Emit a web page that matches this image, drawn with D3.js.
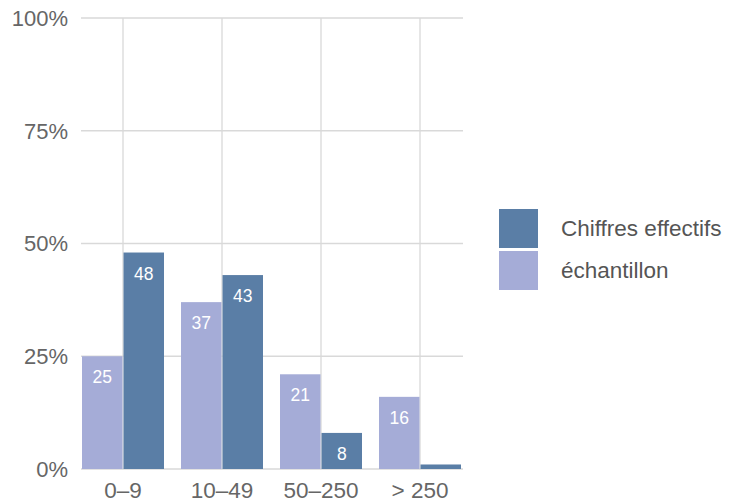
<!DOCTYPE html>
<html><head><meta charset="utf-8">
<script src="https://cdn.jsdelivr.net/npm/d3@7"></script>
<style>
html,body{margin:0;padding:0;background:#fff;}
svg text{font-family:"Liberation Sans",Arial,Helvetica,sans-serif;}
</style></head>
<body><svg id="c" width="731" height="502"></svg>
<script>
const categories = ["0–9", "10–49", "50–250", "> 250"];
const seriesNames = ["échantillon", "Chiffres effectifs"];
const sampleValues = [25, 37, 21, 16];
const actualValues = [48, 43, 8, 1];
const yTicks = [0, 25, 50, 75, 100];
const legendOrder = ["Chiffres effectifs", "échantillon"];
const colors = {"échantillon": "#a5acd7", "Chiffres effectifs": "#5a7ea6"};

const svg = d3.select("#c");
const x = d3.scaleBand().domain(categories).range([82, 461]).paddingInner(17/99).paddingOuter(0);
const xs = d3.scaleBand().domain(seriesNames).range([0, x.bandwidth()]).paddingInner(0.025);
const y = d3.scaleLinear().domain([0, 100]).range([469, 18]);

// horizontal grid
svg.append("g").selectAll("line").data(yTicks).join("line")
  .attr("x1", 81).attr("x2", 463)
  .attr("y1", d => y(d)).attr("y2", d => y(d))
  .attr("stroke", "#d9d9d9").attr("stroke-width", 1.3);
// vertical grid
svg.append("g").selectAll("line").data(categories).join("line")
  .attr("x1", d => x(d) + x.bandwidth()/2).attr("x2", d => x(d) + x.bandwidth()/2)
  .attr("y1", y(100)).attr("y2", y(0))
  .attr("stroke", "#d9d9d9").attr("stroke-width", 1.3);

// y labels
svg.append("g").selectAll("text").data(yTicks).join("text")
  .attr("x", 68).attr("y", d => y(d)).attr("dy", "0.36em")
  .attr("text-anchor", "end").attr("font-size", 22).attr("fill", "#666")
  .text(d => d + "%");
// x labels
svg.append("g").selectAll("text").data(categories).join("text")
  .attr("x", d => x(d) + x.bandwidth()/2).attr("y", 498)
  .attr("text-anchor", "middle").attr("font-size", 22.5).attr("fill", "#666")
  .text(d => d);

const rows = [];
categories.forEach((c, i) => {
  rows.push({cat: c, s: "échantillon", v: sampleValues[i]});
  rows.push({cat: c, s: "Chiffres effectifs", v: actualValues[i]});
});

svg.append("g").selectAll("rect").data(rows).join("rect")
  .attr("x", d => x(d.cat) + xs(d.s)).attr("width", xs.bandwidth())
  .attr("y", d => y(d.v)).attr("height", d => y(0) - y(d.v))
  .attr("fill", d => colors[d.s]);

svg.append("g").selectAll("text").data(rows.filter(d => d.v >= 5)).join("text")
  .attr("x", d => x(d.cat) + xs(d.s) + xs.bandwidth()/2)
  .attr("y", d => y(d.v) + 27)
  .attr("text-anchor", "middle").attr("font-size", 17.5).attr("fill", "#fff")
  .text(d => d.v);

// legend
const lg = svg.append("g").selectAll("g").data(legendOrder).join("g")
  .attr("transform", (d, i) => `translate(499,${209 + i*42})`);
lg.append("rect").attr("width", 39).attr("height", 39).attr("fill", d => colors[d]);
lg.append("text").attr("x", 62).attr("y", 19.5).attr("dy", "0.35em")
  .attr("font-size", 22.5).attr("fill", "#555").text(d => d);
</script></body></html>
